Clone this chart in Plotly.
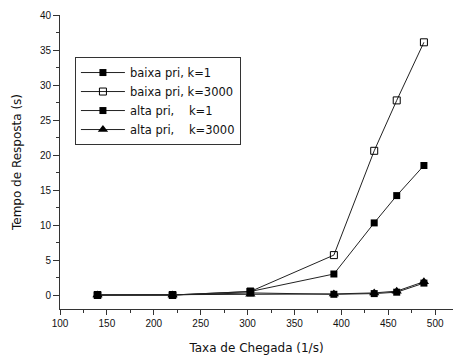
import plotly.graph_objects as go

x_vals = [140, 220, 303, 392, 435, 459, 488]
baixa_k1 = [0.0, 0.0, 0.5, 3.0, 10.3, 14.2, 18.5]
baixa_k3000 = [0.0, 0.0, 0.5, 5.7, 20.6, 27.8, 36.1]
alta_k1 = [0.0, 0.0, 0.3, 0.1, 0.2, 0.4, 1.7]
alta_k3000 = [0.0, 0.0, 0.1, 0.15, 0.3, 0.55, 1.9]

names = ["baixa pri, k=1", "baixa pri, k=3000",
         "alta pri,\u00a0\u00a0\u00a0\u00a0k=1", "alta pri,\u00a0\u00a0\u00a0\u00a0k=3000"]

fig = go.Figure()
line = dict(color="#222222", width=1)
fig.add_trace(go.Scatter(x=x_vals, y=baixa_k1, name=names[0], mode="lines+markers",
                         line=line, marker=dict(symbol="square", size=7, color="black")))
fig.add_trace(go.Scatter(x=x_vals, y=baixa_k3000, name=names[1], mode="lines+markers",
                         line=line, marker=dict(symbol="square-open", size=7, color="black",
                                                line=dict(width=1, color="black"))))
fig.add_trace(go.Scatter(x=x_vals, y=alta_k1, name=names[2], mode="lines+markers",
                         line=line, marker=dict(symbol="square", size=7, color="black")))
fig.add_trace(go.Scatter(x=x_vals, y=alta_k3000, name=names[3], mode="lines+markers",
                         line=line, marker=dict(symbol="triangle-up", size=9, color="black")))

tick_font = dict(family="Liberation Sans, Arial, sans-serif", size=10, color="#111111")
title_font = dict(family="DejaVu Sans, sans-serif", size=12, color="#111111")
fig.update_layout(
    width=454, height=358,
    margin=dict(l=60, r=1, t=15, b=49),
    paper_bgcolor="white", plot_bgcolor="white",
    font=dict(family="Liberation Sans, Arial, sans-serif", size=11, color="#111111"),
    legend=dict(x=0.038, y=0.857, xanchor="left", yanchor="top",
                bordercolor="#333333", borderwidth=1, bgcolor="white",
                font=dict(family="DejaVu Sans, sans-serif", size=11.5), tracegroupgap=0,
                itemwidth=44),
    xaxis=dict(range=[100, 519], showgrid=False, zeroline=False, automargin=False,
               showline=True, linecolor="#333333", linewidth=1,
               ticks="outside", ticklen=5, tickcolor="#333333", dtick=50, tick0=100,
               tickfont=tick_font,
               minor=dict(ticks="outside", ticklen=3, dtick=25, tickcolor="#333333"),
               title=dict(text="Taxa de Chegada (1/s)", font=title_font)),
    yaxis=dict(range=[-2, 40], showgrid=False, zeroline=False, automargin=False,
               showline=True, linecolor="#333333", linewidth=1,
               ticks="outside", ticklen=6, tickcolor="#333333", dtick=5, tick0=0,
               tickfont=tick_font,
               minor=dict(ticks="outside", ticklen=3, dtick=2.5, tickcolor="#333333"),
               title=dict(text="Tempo de Resposta (s)", font=title_font)),
)

fig.write_html("out.html", config={"displayModeBar": False},
               post_script="document.body.style.margin='0';")
